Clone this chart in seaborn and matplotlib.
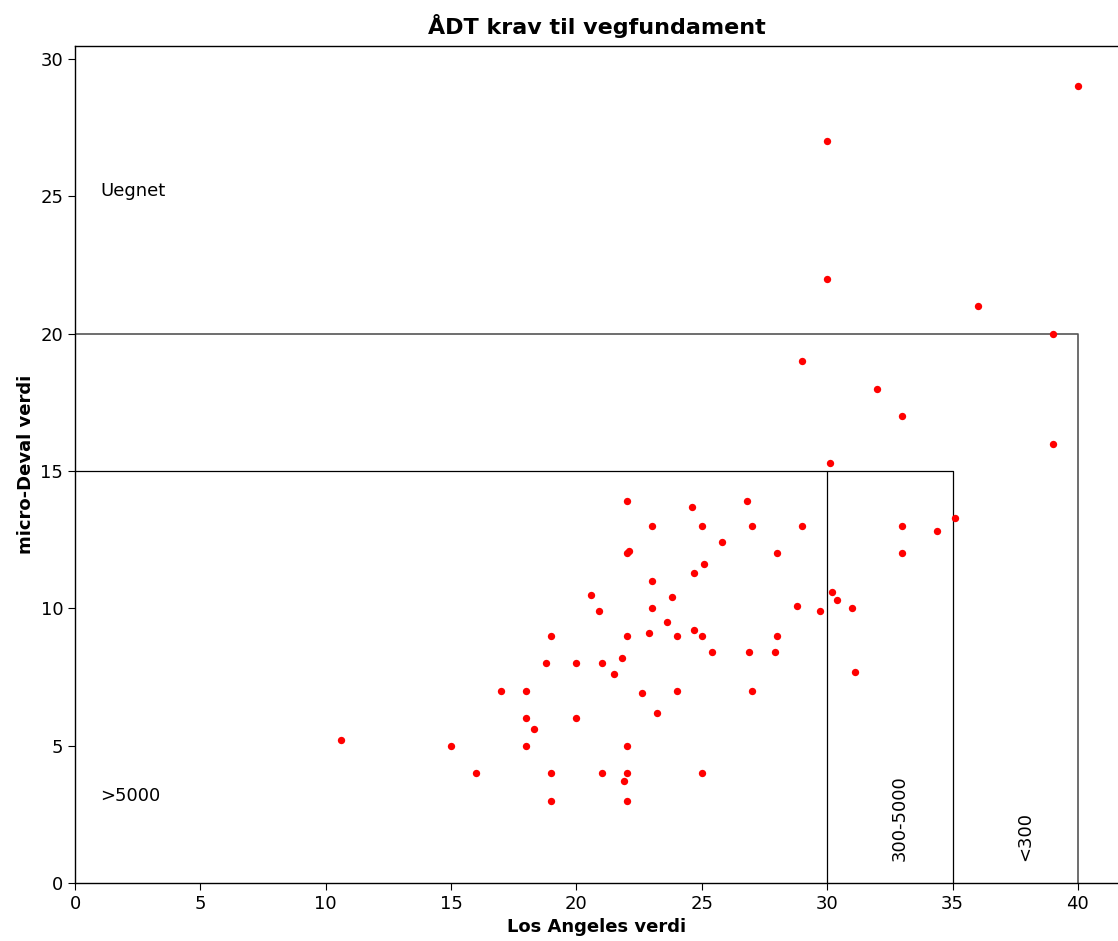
import matplotlib
matplotlib.use('Agg')
import matplotlib.pyplot as plt
import seaborn as sns
import pandas as pd

# Los Angeles / micro-Deval values
la_values = [10.6, 15.0, 16.0, 17.0, 18.0, 18.0, 18.3, 18.0, 19.0, 19.0,
             19.0, 18.8, 20.0, 20.0, 20.6, 20.9, 21.0, 21.0, 21.5, 21.8,
             22.0, 24.6, 26.8, 23.0, 25.0, 27.0, 29.0, 25.8, 22.0, 22.1,
             28.0, 25.1, 24.7, 23.0, 23.8, 23.0, 28.8, 29.7, 30.2, 30.4,
             31.0, 23.6, 22.0, 22.9, 24.0, 24.7, 25.0, 28.0, 25.4, 26.9,
             27.9, 31.1, 22.6, 24.0, 27.0, 23.2, 22.0, 22.0, 21.9, 25.0,
             22.0, 40.0, 30.0, 30.0, 36.0, 39.0, 29.0, 32.0, 33.0, 39.0,
             30.1, 33.0, 33.0, 34.4, 35.1]
md_values = [5.2, 5.0, 4.0, 7.0, 7.0, 6.0, 5.6, 5.0, 4.0, 3.0,
             9.0, 8.0, 8.0, 6.0, 10.5, 9.9, 8.0, 4.0, 7.6, 8.2,
             13.9, 13.7, 13.9, 13.0, 13.0, 13.0, 13.0, 12.4, 12.0, 12.1,
             12.0, 11.6, 11.3, 11.0, 10.4, 10.0, 10.1, 9.9, 10.6, 10.3,
             10.0, 9.5, 9.0, 9.1, 9.0, 9.2, 9.0, 9.0, 8.4, 8.4,
             8.4, 7.7, 6.9, 7.0, 7.0, 6.2, 5.0, 4.0, 3.7, 4.0,
             3.0, 29.0, 27.0, 22.0, 21.0, 20.0, 19.0, 18.0, 17.0, 16.0,
             15.3, 13.0, 12.0, 12.8, 13.3]

# ÅDT class limits
limit_a = (35, 15)
limit_b = (40, 20)
limit_c = (30, 15)

df = pd.DataFrame({'la': la_values, 'md': md_values})

sns.set_style('ticks')
plt.rcParams['font.family'] = ['DejaVu Sans']
plt.rcParams['text.color'] = 'black'
plt.rcParams['axes.labelcolor'] = 'black'
plt.rcParams['xtick.color'] = 'black'
plt.rcParams['ytick.color'] = 'black'

fig = plt.figure(figsize=(11.18, 9.41), dpi=100)
ax = fig.add_axes([0.0671, 0.0616, 0.9329, 0.8895])

# class boundaries
ax.plot([0, limit_a[0], limit_a[0]], [limit_a[1], limit_a[1], 0], color='black', lw=0.9)
ax.plot([0, limit_b[0], limit_b[0]], [limit_b[1], limit_b[1], 0], color='#555555', lw=1.2)
ax.plot([limit_c[0], limit_c[0]], [0, limit_c[1]], color='black', lw=0.9)

sns.scatterplot(data=df, x='la', y='md', color='red', s=28, linewidth=0, ax=ax, zorder=3)

ax.text(1, 25, 'Uegnet', fontsize=13)
ax.text(1, 3, '>5000', fontsize=13)
ax.text(32.9, 0.8, '300-5000', rotation=90, ha='center', va='bottom', fontsize=13)
ax.text(37.9, 0.8, '<300', rotation=90, ha='center', va='bottom', fontsize=13)

ax.set_xlim(0, 41.6)
ax.set_ylim(0, 30.47)
ax.set_xticks(range(0, 45, 5))
ax.set_yticks(range(0, 35, 5))
ax.tick_params(labelsize=13, length=5)
for s in ax.spines.values():
    s.set_linewidth(1.0)
    s.set_color('black')
ax.spines['right'].set_visible(False)

ax.set_title('ÅDT krav til vegfundament', fontsize=16, fontweight='bold', pad=9)
ax.set_xlabel('Los Angeles verdi', fontsize=13, fontweight='bold')
ax.set_ylabel('micro-Deval verdi', fontsize=13, fontweight='bold')

fig.savefig('out.png', dpi=100)
